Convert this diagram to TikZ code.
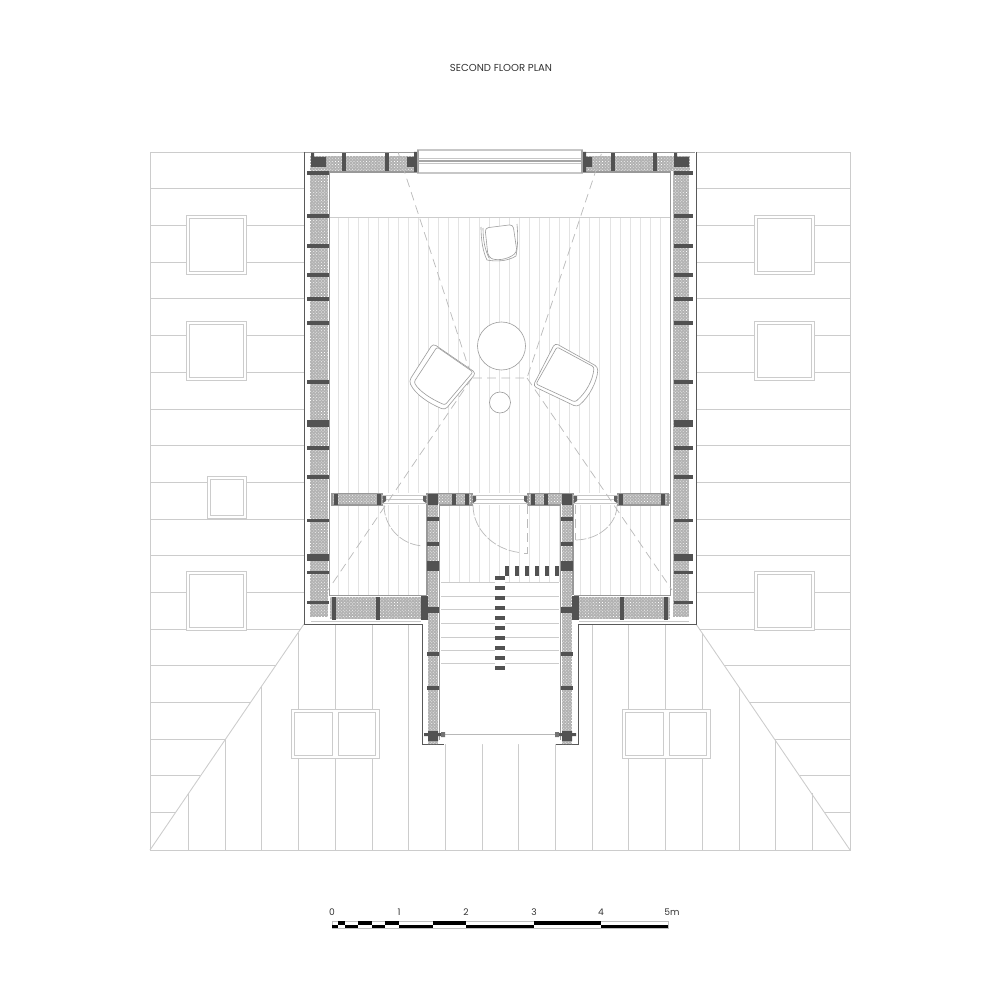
\documentclass[tikz,border=0pt]{standalone}
\usepackage{fontspec}
\setmainfont{Poppins}
\usetikzlibrary{patterns.meta}

\begin{document}
\begin{tikzpicture}[
  x=0.02cm, y=-0.02cm,
  roofline/.style={draw=black!20, line width=0.5pt},
  skyframe/.style={draw=black!20, line width=0.55pt, fill=white},
  board/.style={draw=black!11, line width=0.45pt},
  tread/.style={draw=black!20, line width=0.55pt},
  outline/.style={draw=black!65, line width=0.45pt},
  hatchbase/.style={fill=black!30},
  hatchfill/.style={pattern={Dots[distance=1.25pt, radius=0.28pt, angle=45]}, pattern color=white},
  wallline/.style={draw=black!40, line width=1.1pt},
  tie/.style={fill=black!68, draw=none},
  frameline/.style={draw=black!22, line width=0.55pt},
  cutline/.style={draw=black!27, line width=0.4pt, dash pattern=on 5pt off 3pt},
  furniture/.style={draw=black!38, line width=0.35pt, line join=round},
  planlabel/.style={font=\fontsize{5.2pt}{6pt}\selectfont, text=black!80, inner sep=0pt}
]
\useasboundingbox (0,0) rectangle (1000,1000);

% Title
\node[planlabel, font=\fontsize{5.75pt}{6pt}\selectfont] (title) at (501,68) {SECOND FLOOR PLAN};

% Roof
\draw[roofline] (150,152) rectangle (850,850);
\foreach \y in {188.7,225.4,262,298.8,335.5,372,409,445.6,482,519,555.7,592,629,665.5,702,739,775.5,812} {
  \pgfmathsetmacro{\xend}{min(304,304-(\y-624)/1.461)}
  \draw[roofline] (150,\y) -- (\xend,\y);
  \draw[roofline] (850,\y) -- ({1000-\xend},\y);
}
\draw[roofline] (304,624) -- (150,850);
\draw[roofline] (696,624) -- (850,850);
\foreach \x in {188,225,261,298,335,372,408} {
  \pgfmathsetmacro{\ytop}{max(624,624+(304-\x)*1.461)}
  \draw[roofline] (\x,\ytop) -- (\x,850);
  \draw[roofline] ({1000-\x},\ytop) -- ({1000-\x},850);
}
\foreach \x in {445,482,518,555} \draw[roofline] (\x,740) -- (\x,850);

% Skylights
\foreach \xa/\ya/\xb/\yb in {186/215/246/274,186/321/246/380,207/476/246/518,186/571/246/630,754/215/814/274,754/321/814/380,754/571/814/630} {
  \draw[skyframe] (\xa,\ya) rectangle (\xb,\yb);
  \draw[skyframe] (\xa+3,\ya+3) rectangle (\xb-3,\yb-3);
}
\foreach \xa in {291,622} {
  \draw[skyframe] (\xa,709) rectangle (\xa+88,758);
  \draw[skyframe] (\xa+3.5,712) rectangle (\xa+41,755);
  \draw[skyframe] (\xa+47,712) rectangle (\xa+84.5,755);
}

% Outer line of the house
\fill[white] (304,152) rectangle (696,624) (422,624) rectangle (578,744);
\draw[outline] (304,152) -- (304,624) -- (422,624) -- (422,744) -- (444,744);
\draw[outline] (696,152) -- (696,624) -- (578,624) -- (578,744) -- (556,744);

% Floor boards
\draw[roofline] (330,217.5) -- (670,217.5);
\foreach \x in {338,348.07,...,668} \draw[board] (\x,218) -- (\x,493);
\foreach \x in {338,348.07,...,426} \draw[board] (\x,505) -- (\x,595);
\foreach \x in {449,459,...,559} \draw[board] (\x,505) -- (\x,582);
\foreach \x in {580,590,...,668} \draw[board] (\x,505) -- (\x,595);

% Stairs
\foreach \y in {582,596,609,623,637,650,663} \draw[tread] (441,\y) -- (559,\y);
\fill[white] (495,580) rectangle (505,672);
\foreach \y in {578,588,...,668} \fill[black!68] (495,\y-1.7) rectangle (505,\y+1.7);
\foreach \x in {507,517,...,557} \fill[black!68] (\x-1.7,566) rectangle (\x+1.7,576);

% Masonry
\foreach \xa/\ya/\xb/\yb in {310/156/418/171,310/171/328/617,673/171/689/617,582/156/690/171,
    330/597/426/619,574/597/670/619,332/494/382/504,426/494/472/504,528/494/573/504,618/494/670/504,
    428/504/438/744,562/504/572/744} {
  \fill[hatchbase] (\xa,\ya) rectangle (\xb,\yb);
  \fill[hatchfill] (\xa,\ya) rectangle (\xb,\yb);
}

% Wall faces
\draw[wallline] (305,152.5) -- (418,152.5);
\draw[wallline] (582,152.5) -- (695,152.5);
\draw[wallline] (418,172) -- (329.5,172) -- (329.5,595.5) -- (426.5,595.5);
\draw[wallline] (582,172) -- (670.5,172) -- (670.5,595.5) -- (573.5,595.5);
\draw[wallline] (332,505) -- (332,493.5) -- (382,493.5) -- (382,505) -- cycle;
\draw[wallline] (618,505) -- (618,493.5) -- (668,493.5) -- (668,505) -- cycle;
\draw[wallline] (427,505) -- (427,493.5) -- (472,493.5) -- (472,505) -- (439.5,505) -- (439.5,740);
\draw[wallline] (573,505) -- (573,493.5) -- (528,493.5) -- (528,505) -- (560.5,505) -- (560.5,740);
\draw[wallline, line width=0.7pt] (427,505) -- (427,595);
\draw[wallline, line width=0.7pt] (573,505) -- (573,595);
\draw[frameline] (311,621) -- (421,621);
\draw[frameline] (579,621) -- (689,621);

% Ties, side walls
\foreach \y/\h in {173/3.5,216/3.5,246/3.5,275/3.5,299/3.5,323/3.5,382/3.5,423/7,448/3.5,477/3.5,520.5/3.5,557.5/7,572.5/3.5,602.5/3.5} {
  \fill[tie] (307,\y-\h/2) rectangle (329,\y+\h/2);
  \fill[tie] (674,\y-\h/2) rectangle (693,\y+\h/2);
}
% Ties, top wall
\foreach \x in {344,387,613,655} \fill[tie] (\x-1.7,153) rectangle (\x+1.7,171);
\fill[tie] (311,157) rectangle (326,167) (311,153) rectangle (314,157);
\fill[tie] (674,157) rectangle (689,167) (674,153) rectangle (677,157);
\fill[tie] (407,157) rectangle (418,167) (414,152) rectangle (418,172);
\fill[tie] (582,157) rectangle (592,167) (582,152) rectangle (586,172);
% Ties, lower walls
\foreach \x/\w in {334/3.5,378/3.5,622/3.5,666/3.5} \fill[tie] (\x-\w/2,597) rectangle (\x+\w/2,620);
\fill[tie] (421,596) rectangle (428,620);
\fill[tie] (572,596) rectangle (579,620);
% Ties, partition
\foreach \x/\w in {336/3.5,379/4,454/3.5,467/3.5,533/3.5,546/3.5,621/3.5,663/3.5} \fill[tie] (\x-\w/2,494) rectangle (\x+\w/2,505);
\fill[tie] (428,494) rectangle (438,505);
\fill[tie] (562,494) rectangle (572,505);
% Ties, stair walls
\foreach \y/\h in {519/3.5,544/3.5,566/10,610/6,654/3.5,688/3.5} {
  \fill[tie] (427,\y-\h/2) rectangle (439,\y+\h/2);
  \fill[tie] (561,\y-\h/2) rectangle (573,\y+\h/2);
}
\fill[tie] (428,731) rectangle (438,741) (424,733) rectangle (441,736);
\fill[tie] (562,731) rectangle (572,741) (559,733) rectangle (576,736);

% Front window
\draw[frameline, fill=white, line width=0.7pt] (418,150) rectangle (582,173);
\draw[frameline] (418,158) -- (582,158);
\draw[draw=black!35, line width=0.9pt] (418,161) -- (582,161);
\draw[frameline] (418,163.5) -- (582,163.5);
\draw[draw=black!35, line width=1pt] (418,150.5) -- (418,173) (582,150.5) -- (582,173);

% Rear window
\draw[draw=black!28, line width=1.1pt] (444,734.5) -- (556,734.5);
\fill[black!55] (441,732) rectangle (445,737) (555,732) rectangle (559,737);

% Partition openings
\foreach \xa/\xb in {382/427,472/528,573/618} {
  \draw[frameline] (\xa,495.5) -- (\xb,495.5);
  \draw[frameline] (\xa,499.5) -- (\xb,499.5);
  \draw[frameline] (\xa,503.5) -- (\xb,503.5);
}
\foreach \x/\s in {383/1,426/-1,473/1,527/-1,574/1,617/-1}
  \fill[black!62] (\x,496) -- (\x+\s*3,496) -- (\x+\s*3,501) -- (\x,503) -- cycle;

% Door swings
\draw[cutline, dash pattern=on 6pt off 1pt] (384,505) arc[start angle=180, end angle=95, radius=41];
\draw[cutline, dash pattern=on 6pt off 1pt] (473,505) arc[start angle=180, end angle=98, x radius=54, y radius=48];
\draw[cutline] (527,505) -- (527,553) -- (521,553);
\draw[cutline, dash pattern=on 6pt off 1pt] (617,505) arc[start angle=0, end angle=90, x radius=42, y radius=35];
\draw[cutline] (575,505) -- (575,540);

% Roof pitch lines
\draw[cutline] (398,152) -- (472,378) -- (527,378) -- (602,152);
\draw[cutline] (472,378) -- (328,590);
\draw[cutline] (527,378) -- (672,590);

% Table and stool
\draw[furniture, fill=white] (501.5,346) circle[radius=24];
\draw[furniture, fill=white] (500,402.5) circle[radius=10.5];

% Chairs
\draw[furniture, fill=white, rounded corners=2pt] (433,343.5) -- (476,373) -- (445,410) .. controls (428,403) and (415,394) .. (409,381) -- cycle;
\draw[furniture, rounded corners=1.2pt] (437,347) -- (473,372) -- (445,405) .. controls (431,399) and (419,391) .. (414,382) -- cycle;
\draw[furniture, fill=white, rounded corners=2pt] (555,343) -- (598,367) .. controls (597,382) and (589,397) .. (577,407) -- (533,386) -- cycle;
\draw[furniture, rounded corners=1.2pt] (557,347) -- (594,367) .. controls (593,380) and (586,393) .. (575,402) -- (536,384) -- cycle;
\draw[furniture, fill=white, rounded corners=2pt] (485,228) -- (513,224.5) -- (517,252) .. controls (507,260) and (495,261) .. (488,256) -- cycle;
\draw[furniture] (481,227) .. controls (481,240) and (483,252) .. (487,260) .. controls (497,262) and (508,261) .. (516,256) .. controls (518,245) and (518,235) .. (517,224);
\draw[furniture] (483,228) .. controls (483,240) and (485,250) .. (489,258);

% Scale bar
\draw[draw=black!25, line width=0.3pt] (332,921) rectangle (668,928);
\foreach \xa/\xb in {338/345,358/372,385/399,433/466,534/601} \fill[black] (\xa,921) rectangle (\xb,924.5);
\foreach \xa/\xb in {332/338,345/358,372/385,399/433,466/534,601/668} \fill[black] (\xa,924.5) rectangle (\xb,928);
\foreach \x/\lab in {332/0,399/1,466/2,534/3,601/4,672/5m}
  \node[planlabel] (scale\lab) at (\x,912) {\lab};

\end{tikzpicture}
\end{document}
